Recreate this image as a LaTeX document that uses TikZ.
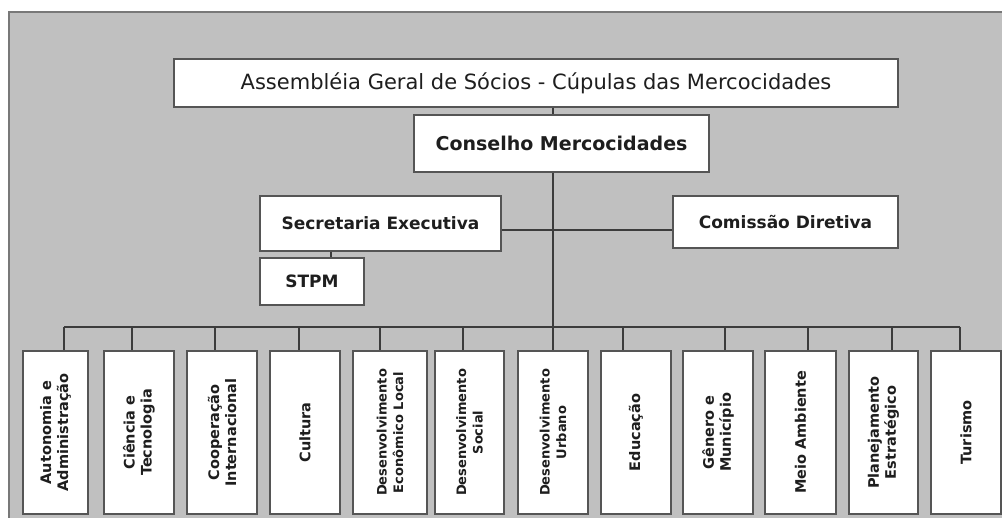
\documentclass[tikz,border=0pt]{standalone}
\usepackage{fontspec}
\setmainfont{DejaVu Sans}
\definecolor{bggray}{RGB}{192,192,192}
\definecolor{outerline}{RGB}{120,120,120}
\definecolor{boxline}{RGB}{85,85,85}
\definecolor{connc}{RGB}{60,60,60}
\definecolor{txt}{RGB}{30,30,30}
\begin{document}
\begin{tikzpicture}[x=1pt,y=-1pt,
  box/.style={draw=boxline, line width=1.5pt, fill=white, inner sep=0pt, text=txt},
  unit/.style={box, minimum width=70pt, minimum height=163pt},
  utext/.style={rotate=90, align=center, text=txt, inner sep=0pt,
    font=\bfseries\fontsize{14.5}{17}\selectfont},
  usmall/.style={utext, font=\bfseries\fontsize{13}{16.5}\selectfont},
  conn/.style={draw=connc, line width=1.3pt}]
\clip (0,0) rectangle (1002,518);
\useasboundingbox (0,0) rectangle (1002,518);
\fill[white] (0,0) rectangle (1002,518);
\filldraw[fill=bggray, draw=outerline, line width=2pt] (9,12) rectangle (1020,540);

% top boxes
\node[box, minimum width=724pt, minimum height=48pt, font=\fontsize{21}{25}\selectfont] (A) at (536,83) {Assembléia Geral de Sócios - Cúpulas das Mercocidades};
\node[box, minimum width=295pt, minimum height=57pt, font=\bfseries\fontsize{19}{23}\selectfont] (C) at (561.5,143.5) {Conselho Mercocidades};
\node[box, minimum width=241pt, minimum height=55pt, font=\bfseries\fontsize{17}{20}\selectfont] (S) at (380.5,223.5) {Secretaria Executiva};
\node[box, minimum width=225pt, minimum height=52pt, font=\bfseries\fontsize{17}{20}\selectfont] (K) at (785.5,222) {Comissão Diretiva};
\node[box, minimum width=104pt, minimum height=47pt, font=\bfseries\fontsize{17}{20}\selectfont] (P) at (312,281.5) {STPM};

% unit boxes
\node[unit, minimum width=65pt] (u1) at (55.5,432.5) {};
\node[unit] (u2) at (139,432.5) {};
\node[unit] (u3) at (222,432.5) {};
\node[unit] (u4) at (305,432.5) {};
\node[unit, minimum width=74pt] (u5) at (390,432.5) {};
\node[unit, minimum width=69pt] (u6) at (469.5,432.5) {};
\node[unit] (u7) at (553,432.5) {};
\node[unit] (u8) at (636,432.5) {};
\node[unit] (u9) at (718,432.5) {};
\node[unit, minimum width=71pt] (u10) at (800.5,432.5) {};
\node[unit, minimum width=69pt] (u11) at (883.5,432.5) {};
\node[unit] (u12) at (966,432.5) {};

\node[utext] (l1) at (u1) {Autonomia e\\Administração};
\node[utext] (l2) at (u2) {Ciência e\\Tecnologia};
\node[utext] (l3) at (u3) {Cooperação\\Internacional};
\node[utext] (l4) at (u4) {Cultura};
\node[usmall] (l5) at (u5) {Desenvolvimento\\Econômico Local};
\node[usmall] (l6) at (u6) {Desenvolvimento\\Social};
\node[usmall] (l7) at (u7) {Desenvolvimento\\Urbano};
\node[utext] (l8) at (u8) {Educação};
\node[utext] (l9) at (u9) {Gênero e\\Município};
\node[utext] (l10) at (u10) {Meio Ambiente};
\node[utext] (l11) at (u11) {Planejamento\\Estratégico};
\node[utext] (l12) at (u12) {Turismo};

% connector points
\coordinate (d1) at (64,327);
\coordinate (d2) at (132,327);
\coordinate (d3) at (215,327);
\coordinate (d4) at (299,327);
\coordinate (d5) at (380,327);
\coordinate (d6) at (463,327);
\coordinate (d7) at (553,327);
\coordinate (d8) at (623,327);
\coordinate (d9) at (725,327);
\coordinate (d10) at (808,327);
\coordinate (d11) at (892,327);
\coordinate (d12) at (960,327);
\coordinate (h) at (553,230);
\coordinate (sp) at (331,250);

% connectors
\draw[conn] (A.south -| d7) -- (C.north -| d7);
\draw[conn] (C.south -| d7) -- (d7 |- u7.north);
\draw[conn] (S.east |- h) -- (K.west |- h);
\draw[conn] (S.south -| sp) -- (P.north -| sp);
\draw[conn] (d1) -- (d12);
\foreach \i in {1,...,6,8,9,10,11,12}{
  \draw[conn] (d\i) -- (d\i |- u\i.north);
}
\end{tikzpicture}
\end{document}
